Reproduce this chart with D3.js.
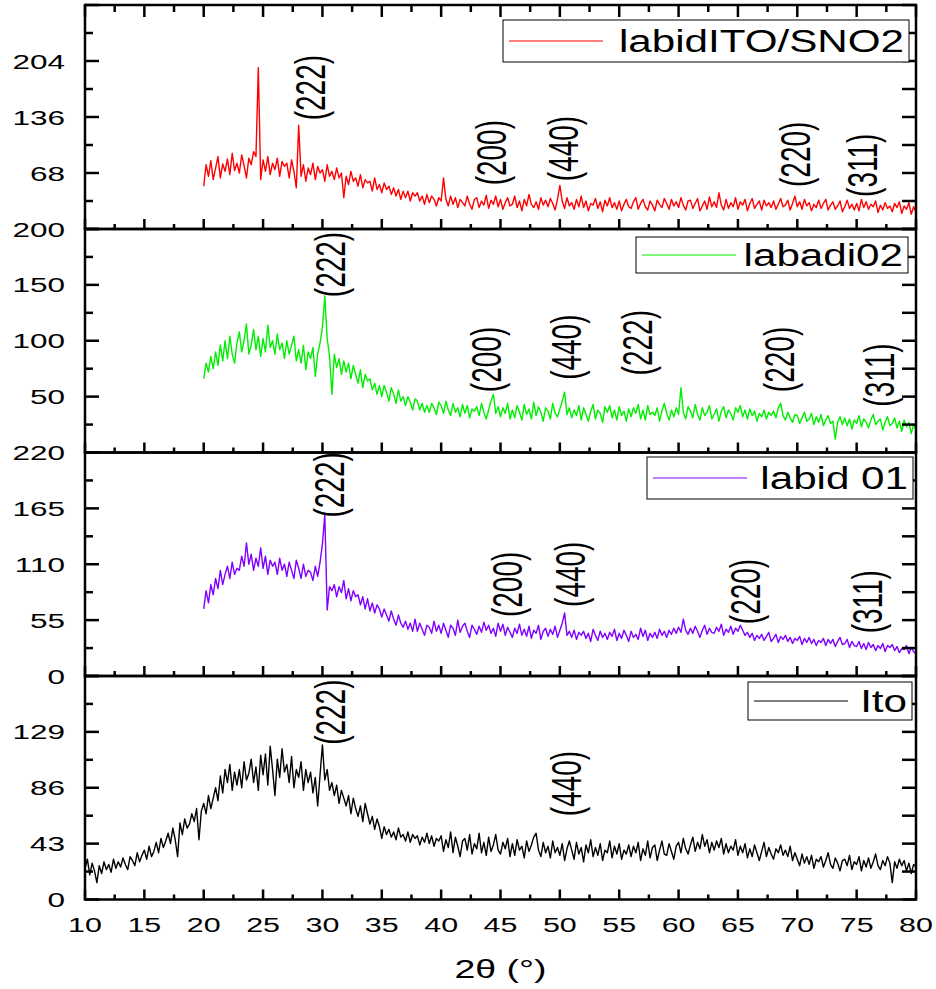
<!DOCTYPE html>
<html>
<head>
<meta charset="utf-8">
<script src="https://cdn.jsdelivr.net/npm/d3@7"></script>
<style>
  body { margin: 0; background: #fff; }
  text { font-family: "Liberation Sans", Arial, sans-serif; fill: #000; }
</style>
</head>
<body>
<svg id="chart" width="936" height="989"></svg>
<script>
// scan step (degrees 2theta) and start angles
const stepDeg = 0.2;
const startDeg = [20, 20, 20, 10];

// intensities, one row per degree
const labidItoSno2 = [
  52,78,64,83,60, 74,88,62,79,70, 85,66,92,71,80, 68,90,77,62,86, 78,94,88,196,60,
  84,70,88,66,80, 72,86,64,82,76, 80,62,84,70,50, 126,64,78,58,74, 66,80,60,76,68,
  72,58,78,64,70, 60,74,62,68,38, 64,54,70,58,62, 52,66,50,60,56, 58,46,62,48,54,
  44,56,48,52,42, 50,40,48,36,46, 38,46,34,44,40, 44,34,40,30,42, 32,40,36,28,38,
  34,62,36,28,40, 30,38,26,36,32, 28,40,30,24,36, 38,26,34,29,41, 25,35,30,40,27,
  36,24,32,38,28, 30,40,26,34,22, 36,28,42,30,26, 33,24,38,29,35, 27,37,31,23,36,
  53,34,25,38,28, 32,24,36,27,40, 26,34,22,31,29, 37,25,33,21,35, 28,38,26,32,24,
  34,22,30,36,27, 25,33,38,24,31, 36,27,23,34,29, 22,35,30,26,37, 31,24,36,28,33,
  26,38,29,23,34, 35,25,31,37,22, 28,34,24,39,27, 33,26,44,29,23, 36,25,32,27,38,
  24,33,29,36,22, 31,37,25,30,34, 23,35,28,32,26, 34,24,30,37,27, 29,35,23,31,40,
  27,33,24,36,28, 32,22,30,26,35, 25,31,36,23,29, 33,24,28,34,21, 27,35,25,30,23,
  31,22,36,26,33, 24,30,27,34,20, 29,23,32,25,28, 21,31,26,33,19, 28,24,32,18,27,
  20
];

const labadi02 = [
  66,80,72,86,75, 90,78,96,82,100, 84,104,88,80,98, 108,90,100,115,88, 96,110,92,104,86,
  102,90,114,94,100, 88,106,92,98,84, 100,88,96,104,82, 92,80,96,74,90, 84,94,68,88,98,
  112,140,102,86,52, 88,76,84,70,82, 72,80,66,78,70, 62,74,58,70,64, 66,56,62,52,60,
  50,60,54,46,58, 52,44,56,46,50, 42,50,45,38,48, 46,38,44,36,42, 36,44,40,34,45,
  42,35,46,38,33, 44,36,40,32,43, 35,42,31,39,37, 41,33,44,36,30, 38,46,52,35,41,
  32,40,35,44,30, 38,31,42,36,29, 43,34,39,30,45, 33,41,36,28,40, 37,30,44,35,32,
  39,46,54,34,40, 31,38,33,42,29, 40,34,28,37,43, 30,38,35,27,41, 36,42,31,38,29,
  41,33,37,28,39, 32,40,35,43,30, 38,29,42,34,36, 33,40,28,37,44, 35,29,38,32,40,
  34,58,36,30,41, 37,31,43,34,29, 40,33,36,42,30, 34,39,28,37,41, 31,38,35,29,40,
  36,42,32,38,30, 39,33,37,28,35, 32,38,30,36,33, 37,31,40,44,33, 29,36,31,27,34,
  33,26,31,36,28, 30,35,25,32,27, 34,24,29,33,26, 28,12,27,32,25, 31,24,30,21,29,
  26,33,23,30,27, 22,29,34,25,28, 30,20,27,32,24, 26,31,22,28,19, 29,23,27,17,25,
  20
];

const labid01 = [
  66,84,72,90,80, 96,86,104,90,100, 108,96,112,100,106, 104,118,108,131,110, 120,104,116,108,126,
  106,118,100,114,108, 112,100,116,104,110, 98,112,104,96,114, 106,96,110,98,104, 102,94,108,98,112,
  130,159,65,88,84, 90,78,88,82,94, 76,86,74,84,78, 80,70,78,66,76, 64,72,62,70,66,
  58,66,60,54,64, 56,50,60,52,48, 54,46,52,44,56, 44,52,46,40,50, 48,42,54,44,50,
  42,52,45,38,50, 47,40,55,43,49, 52,44,38,50,46, 41,49,43,53,45, 50,42,47,39,52,
  44,51,40,48,43, 38,47,42,51,40, 46,39,49,37,45, 42,50,36,44,47, 39,46,41,49,38,
  45,52,62,40,44, 38,45,36,43,40, 44,37,42,34,46, 40,35,44,38,42, 36,43,39,46,35,
  42,37,45,40,34, 44,38,41,36,47, 39,45,35,42,38, 43,37,46,40,44, 38,45,41,47,42,
  48,43,56,45,41, 47,42,49,44,38, 45,50,41,47,43, 42,48,44,51,40, 46,43,49,41,47,
  44,50,45,40,43, 38,42,35,40,37, 41,35,39,43,34, 37,41,33,39,36, 40,34,38,32,37,
  35,39,31,37,33, 38,32,36,30,35, 33,37,30,36,32, 36,29,34,38,31, 32,36,28,34,30,
  29,34,27,32,26, 33,28,31,25,30, 27,32,24,30,28, 31,25,29,23,27, 26,30,22,28,24,
  22
];

const ito = [
  24,31,19,28,22, 13,26,20,29,23, 27,21,31,24,29, 25,32,27,23,33, 30,26,36,29,34,
  38,31,41,33,37, 44,36,47,40,45, 51,43,55,46,33, 59,50,62,55,58, 66,60,70,46,68,
  74,66,80,70,78, 86,76,95,82,100, 90,104,84,98,88, 100,86,106,92,97, 108,90,102,84,111,
  96,112,88,118,100, 80,108,94,116,98, 104,90,110,86,100, 94,106,84,100,90, 98,82,94,72,96,
  119,92,100,84,90, 80,88,74,84,78, 72,80,66,78,70, 64,72,60,74,66, 58,64,54,62,56,
  47,56,50,54,48, 52,46,55,48,50, 45,52,44,50,47, 49,42,48,44,51, 43,49,41,47,45,
  49,37,46,40,52, 36,48,41,33,45, 47,38,50,35,43, 39,51,36,44,34, 48,37,42,50,38,
  35,44,39,47,33, 43,34,46,38,41, 32,45,37,42,48, 51,38,33,44,36, 41,32,45,36,40,
  34,43,30,39,45, 38,31,44,35,40, 29,42,36,46,33, 40,34,43,30,38, 36,45,32,41,35,
  43,31,38,35,42, 33,41,36,44,30, 39,34,45,32,40, 42,30,38,45,35, 34,43,37,31,41,
  44,36,47,39,35, 42,48,37,44,39, 50,41,46,36,44, 38,45,40,47,35, 43,36,41,38,46,
  34,41,36,43,32, 39,33,42,36,30, 37,44,33,40,35, 31,39,36,42,34, 38,33,41,30,36,
  31,26,35,28,33, 27,34,24,31,29, 33,25,30,36,27, 24,32,28,22,30, 31,26,34,23,29,
  27,33,22,30,25, 32,24,29,35,26, 23,30,26,33,28, 13,29,24,31,26, 30,22,28,20,27,
  25
];

// panels top to bottom
const seriesNames = ["labidITO/SNO2", "labadi02", "labid 01", "Ito"];
const seriesColors = ["#ff0000", "#00ee00", "#8000ff", "#000000"];
const seriesValues = [labidItoSno2, labadi02, labid01, ito];
const yMax = [272, 200, 220, 172];
const yMajor = [68, 50, 55, 43];
const yLabels = [[68, 136, 204], [50, 100, 150, 200], [0, 55, 110, 165, 220], [0, 43, 86, 129]];
const xTicks = [10, 15, 20, 25, 30, 35, 40, 45, 50, 55, 60, 65, 70, 75, 80];

// peak labels: [text, 2theta, intensity where the text starts]
const peakLabels = [
  [["(222)", 29.0, 132], ["(200)", 44.2, 53], ["(440)", 50.3, 58], ["(220)", 69.8, 51], ["(311)", 75.5, 39]],
  [["(222)", 30.7, 139], ["(200)", 43.8, 54], ["(440)", 50.5, 65], ["(222)", 56.5, 69], ["(220)", 68.5, 54], ["(311)", 76.9, 41]],
  [["(222)", 30.6, 156], ["(200)", 45.6, 58], ["(440)", 50.9, 68], ["(220)", 65.6, 51], ["(311)", 75.9, 42]],
  [["(222)", 30.7, 119], ["(440)", 50.5, 64]]
];

const svg = d3.select("#chart");
const left = 85, right = 916;
const panelTop = [5, 229, 452.5, 676];
const panelBottom = [229, 452.5, 676, 899.5];
const sx = 1.5; // the figure is stretched sideways

const x = d3.scaleLinear().domain([10, 80]).range([left, right]);

function stretchedText(g, px, py, str, size, scaleX, anchor) {
  return g.append("text")
    .attr("transform", `translate(${px},${py}) scale(${scaleX},1)`)
    .attr("text-anchor", anchor)
    .style("font-size", size + "px")
    .text(str);
}

const legendBoxes = [
  { x: 503, y: 20, w: 406, h: 42 },
  { x: 636, y: 237, w: 272, h: 36 },
  { x: 647, y: 457, w: 266, h: 42 },
  { x: 748, y: 682, w: 164, h: 38 }
];

seriesValues.forEach((vals, p) => {
  const g = svg.append("g");
  const y = d3.scaleLinear().domain([0, yMax[p]]).range([panelBottom[p], panelTop[p]]);
  const data = vals.map((v, i) => [startDeg[p] + i * stepDeg, v]);

  // curve
  g.append("path")
    .datum(data)
    .attr("fill", "none")
    .attr("stroke", seriesColors[p])
    .attr("stroke-width", 1.4)
    .attr("stroke-linejoin", "round")
    .attr("d", d3.line().x(d => x(d[0])).y(d => y(d[1])));

  // y ticks, left and right
  const yt = d3.range(0, yMax[p] + 0.01, yMajor[p] / 2);
  yt.forEach((t, i) => {
    const len = i % 2 === 0 ? 14 : 8;
    g.append("line").attr("x1", left).attr("x2", left + len)
      .attr("y1", y(t)).attr("y2", y(t)).attr("stroke", "#000").attr("stroke-width", 2.5);
    g.append("line").attr("x1", right).attr("x2", right - 14)
      .attr("y1", y(t)).attr("y2", y(t)).attr("stroke", "#000").attr("stroke-width", 2.5);
  });
  yLabels[p].forEach(t => stretchedText(g, 65, y(t) + 7.5, t, 21, sx, "end"));

  // x ticks on the bottom of each panel, pointing up
  d3.range(10, 80.01, 2.5).forEach((t, i) => {
    const len = i % 2 === 0 ? 10 : 5;
    g.append("line").attr("x1", x(t)).attr("x2", x(t))
      .attr("y1", panelBottom[p]).attr("y2", panelBottom[p] - len)
      .attr("stroke", "#000").attr("stroke-width", 2.5);
    if (p === 0) {
      g.append("line").attr("x1", x(t)).attr("x2", x(t))
        .attr("y1", panelTop[p]).attr("y2", panelTop[p] + (i % 2 === 0 ? 12 : 7))
        .attr("stroke", "#000").attr("stroke-width", 2.5);
    }
  });

  // frame
  g.append("rect")
    .attr("x", left).attr("y", panelTop[p])
    .attr("width", right - left).attr("height", panelBottom[p] - panelTop[p])
    .attr("fill", "none").attr("stroke", "#000").attr("stroke-width", 2.5);

  // peak labels
  peakLabels[p].forEach(([lab, deg, val]) => {
    g.append("text")
      .attr("transform", `translate(${x(deg)},${y(val)}) scale(${sx},1) rotate(-90)`)
      .attr("dy", "0.35em")
      .style("font-size", "28px")
      .text(lab);
  });

  // legend
  const b = legendBoxes[p];
  g.append("rect").attr("x", b.x).attr("y", b.y).attr("width", b.w).attr("height", b.h)
    .attr("fill", "#fff").attr("stroke", "#000").attr("stroke-width", 1);
  g.append("line").attr("x1", b.x + 6).attr("x2", b.x + 100)
    .attr("y1", b.y + b.h / 2).attr("y2", b.y + b.h / 2)
    .attr("stroke", seriesColors[p]).attr("stroke-width", 1);
  stretchedText(g, b.x + b.w - 5, b.y + b.h / 2 + 11, seriesNames[p], 31, 1.36, "end");
});

// x tick labels and title
const ax = svg.append("g");
xTicks.forEach(t => stretchedText(ax, x(t), 932, t, 21, 1.45, "middle"));
stretchedText(ax, (left + right) / 2, 978, "2θ (°)", 25, 1.5, "middle");
</script>
</body>
</html>
